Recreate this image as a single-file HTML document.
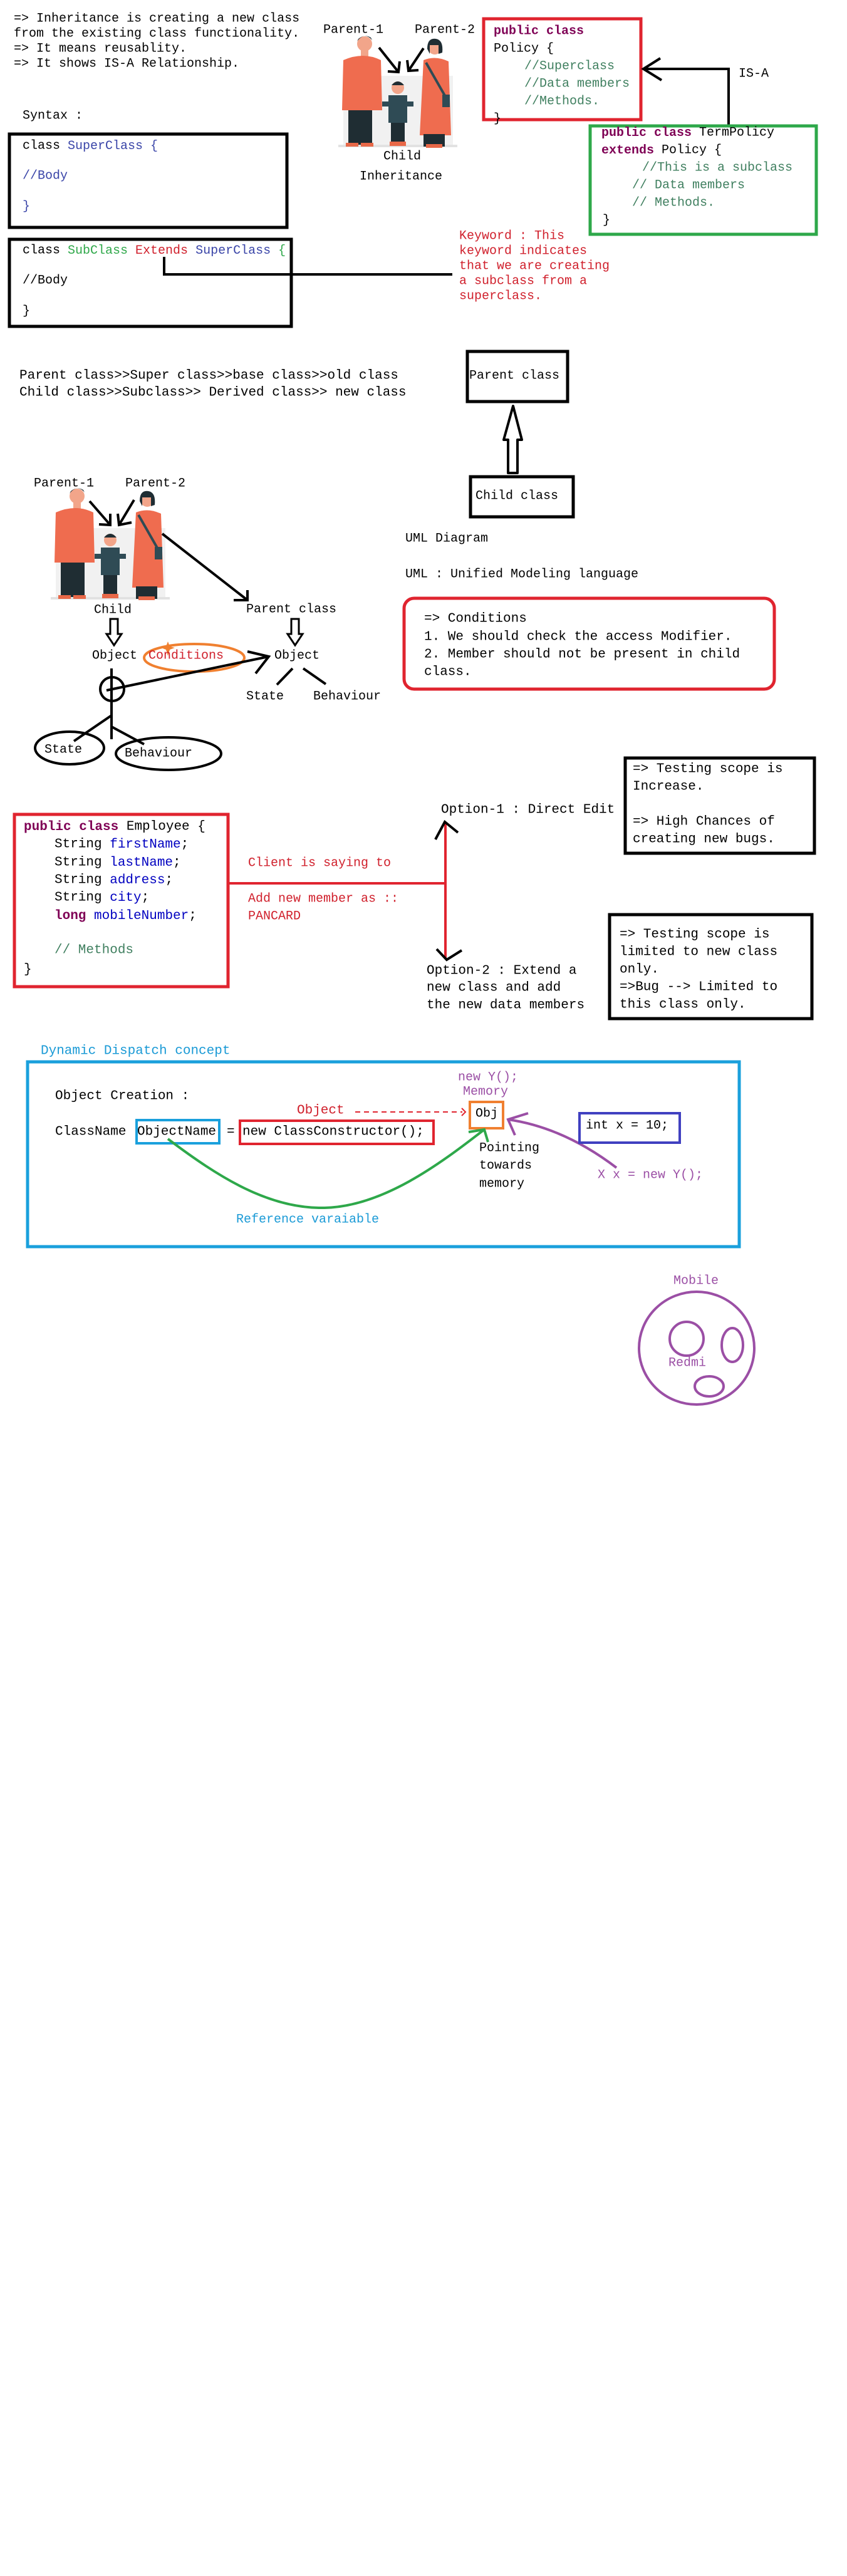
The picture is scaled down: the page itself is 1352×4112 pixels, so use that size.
<!DOCTYPE html>
<html><head><meta charset="utf-8"><style>
html,body{margin:0;padding:0;background:#fff;}
svg{display:block;}
text{font-family:"Liberation Mono",monospace;font-size:20px;dominant-baseline:central;fill:#000;}
.s21{font-size:21px;}
.kw{fill:#7f0055;font-weight:bold;}
.cm{fill:#3f7f5f;}
.bl{fill:#3a45a8;}
.fd{fill:#0000c0;}
.rd{fill:#d0202c;}
.pu{fill:#9b4fa5;}
.cy{fill:#1a9ad6;}
</style></head><body>
<svg width="1352" height="4112" viewBox="0 0 1352 4112" xmlns="http://www.w3.org/2000/svg">
<rect width="1352" height="4112" fill="#fff"/>
<defs>
<g id="fam">
  <rect x="18" y="85" width="175" height="112" fill="#f1f1f1"/>
  <rect x="10" y="195" width="190" height="4" fill="#e2e2e2"/>
  <!-- man -->
  <circle cx="52" cy="34" r="12" fill="#f2a58a"/>
  <path d="M40,30 Q52,14 64,28 L62,24 Q52,18 42,26Z" fill="#1f2d33"/>
  <rect x="46" y="44" width="12" height="10" fill="#f2a58a"/>
  <path d="M18,60 Q50,46 78,60 L80,140 L16,140Z" fill="#ef6c4f"/>
  <rect x="26" y="140" width="38" height="55" fill="#1f2d33"/>
  <rect x="22" y="192" width="20" height="6" fill="#e86848"/><rect x="46" y="192" width="20" height="6" fill="#e86848"/>
  <!-- child -->
  <circle cx="105" cy="104" r="10" fill="#f2a58a"/>
  <path d="M95,100 Q105,88 115,100Z" fill="#1f2d33"/>
  <rect x="80" y="126" width="50" height="8" fill="#2f4b55"/>
  <rect x="90" y="116" width="30" height="44" fill="#2f4b55"/>
  <rect x="94" y="160" width="22" height="34" fill="#1f2d33"/>
  <rect x="92" y="190" width="26" height="7" fill="#e86848"/>
  <!-- woman -->
  <circle cx="164" cy="40" r="11" fill="#f2a58a"/>
  <path d="M152,42 Q152,24 166,26 Q178,28 176,48 L170,50 L170,36 L156,36 L156,50Z" fill="#1f2d33"/>
  <path d="M146,60 Q165,52 186,62 L190,180 L140,180Z" fill="#ef6c4f"/>
  <line x1="150" y1="64" x2="182" y2="120" stroke="#2f4b55" stroke-width="4"/>
  <rect x="176" y="115" width="12" height="20" fill="#2f4b55"/>
  <rect x="146" y="178" width="34" height="20" fill="#1f2d33"/>
  <rect x="150" y="194" width="26" height="6" fill="#e86848"/>
</g>
</defs>

<!-- Top intro text -->
<text x="22" y="30">=&gt; Inheritance is creating a new class</text>
<text x="22" y="54">from the existing class functionality.</text>
<text x="22" y="78">=&gt; It means reusablity.</text>
<text x="22" y="102">=&gt; It shows IS-A Relationship.</text>

<text x="36" y="185">Syntax :</text>
<rect x="15" y="214" width="443" height="149" fill="none" stroke="#000" stroke-width="5"/>
<text x="36" y="233">class <tspan class="bl">SuperClass {</tspan></text>
<text x="36" y="281" class="bl">//Body</text>
<text x="36" y="330" class="bl">}</text>

<rect x="15" y="382" width="450" height="139" fill="none" stroke="#000" stroke-width="5"/>
<text x="36" y="400">class <tspan fill="#2fa84a">SubClass</tspan> <tspan class="rd">Extends</tspan> <tspan class="bl">SuperClass</tspan> <tspan fill="#2fa84a">{</tspan></text>
<text x="36" y="448" fill="#2fa84a">//Body</text>
<text x="36" y="497" fill="#2fa84a">}</text>
<polyline points="262,410 262,438 722,438" fill="none" stroke="#000" stroke-width="4"/>

<!-- illustration 1 -->
<use href="#fam" transform="translate(530,36)"/>
<text x="516" y="48">Parent-1</text>
<text x="662" y="48">Parent-2</text>
<g stroke="#000" stroke-width="4" fill="none">
<line x1="605" y1="76" x2="636" y2="115"/><polyline points="619,114 636,115 638,98"/>
<line x1="676" y1="77" x2="652" y2="113"/><polyline points="650,96 652,113 668,112"/>
</g>
<text x="612" y="250">Child</text>
<text x="574" y="282">Inheritance</text>

<!-- Policy box -->
<rect x="772" y="30" width="251" height="161" fill="none" stroke="#e0242f" stroke-width="5"/>
<text x="788" y="50" class="kw">public class</text>
<text x="788" y="78">Policy {</text>
<text x="837" y="106" class="cm">//Superclass</text>
<text x="837" y="134" class="cm">//Data members</text>
<text x="837" y="162" class="cm">//Methods.</text>
<text x="788" y="190">}</text>
<g stroke="#000" stroke-width="4" fill="none">
<polyline points="1163,199 1163,110 1027,110"/>
<polyline points="1054,93 1027,110 1056,128"/>
</g>
<text x="1179" y="118">IS-A</text>

<rect x="942" y="201" width="361" height="173" fill="none" stroke="#2ea84a" stroke-width="5"/>
<text x="960" y="212"><tspan class="kw">public class</tspan> TermPolicy</text>
<text x="960" y="240"><tspan class="kw">extends</tspan> Policy {</text>
<text x="1025" y="268" class="cm">//This is a subclass</text>
<text x="1009" y="296" class="cm">// Data members</text>
<text x="1009" y="324" class="cm">// Methods.</text>
<text x="962" y="352">}</text>

<text x="733" y="377" class="rd">Keyword : This</text>
<text x="733" y="401" class="rd">keyword indicates</text>
<text x="733" y="425" class="rd">that we are creating</text>
<text x="733" y="449" class="rd">a subclass from a</text>
<text x="733" y="473" class="rd">superclass.</text>

<!-- names -->
<text x="31" y="600" class="s21">Parent class&gt;&gt;Super class&gt;&gt;base class&gt;&gt;old class</text>
<text x="31" y="627" class="s21">Child class&gt;&gt;Subclass&gt;&gt; Derived class&gt;&gt; new class</text>

<!-- UML -->
<rect x="746" y="561" width="160" height="80" fill="none" stroke="#000" stroke-width="5"/>
<text x="749" y="600">Parent class</text>
<polygon points="819,648 833,702 826,702 826,755 811,755 811,702 804,702" fill="#fff" stroke="#000" stroke-width="4" stroke-linejoin="round"/>
<rect x="751" y="761" width="164" height="64" fill="none" stroke="#000" stroke-width="5"/>
<text x="759" y="792">Child class</text>
<text x="647" y="860">UML Diagram</text>
<text x="647" y="917">UML : Unified Modeling language</text>

<rect x="645" y="955" width="591" height="145" rx="16" fill="none" stroke="#e0242f" stroke-width="5"/>
<text x="677" y="988" class="s21">=&gt; Conditions</text>
<text x="677" y="1017" class="s21">1. We should check the access Modifier.</text>
<text x="677" y="1045" class="s21">2. Member should not be present in child</text>
<text x="677" y="1073" class="s21">class.</text>

<!-- illustration 2 -->
<use href="#fam" transform="translate(71,758)"/>
<text x="54" y="772">Parent-1</text>
<text x="200" y="772">Parent-2</text>
<g stroke="#000" stroke-width="4" fill="none">
<line x1="143" y1="800" x2="176" y2="838"/><polyline points="158,837 176,838 176,820"/>
<line x1="214" y1="798" x2="190" y2="838"/><polyline points="188,820 190,838 210,834"/>
<line x1="259" y1="852" x2="395" y2="958"/><polyline points="373,958 395,958 395,942"/>
</g>
<text x="150" y="974">Child</text>
<text x="393" y="973">Parent class</text>
<polygon points="176,988 188,988 188,1012 194,1012 182,1030 170,1012 176,1012" fill="#fff" stroke="#000" stroke-width="3"/>
<polygon points="465,988 477,988 477,1012 483,1012 471,1030 459,1012 465,1012" fill="#fff" stroke="#000" stroke-width="3"/>

<text x="147" y="1047">Object</text>
<ellipse cx="310" cy="1050" rx="80" ry="22" fill="none" stroke="#f08030" stroke-width="4"/>
<path d="M268,1024 l3,8 8,2 -8,3 -3,10 -3,-10 -8,-3 8,-2z" fill="#f08030"/>
<text x="237" y="1047" class="rd">Conditions</text>
<text x="438" y="1047">Object</text>
<g stroke="#000" stroke-width="4" fill="none">
<line x1="170" y1="1102" x2="429" y2="1048"/>
<polyline points="395,1040 429,1048 408,1075"/>
<line x1="467" y1="1067" x2="442" y2="1093"/>
<line x1="484" y1="1067" x2="520" y2="1092"/>
<line x1="178" y1="1067" x2="178" y2="1180"/>
<circle cx="179" cy="1100" r="19"/>
<line x1="178" y1="1142" x2="118" y2="1183"/>
<line x1="178" y1="1160" x2="230" y2="1188"/>
<ellipse cx="111" cy="1194" rx="55" ry="26"/>
<ellipse cx="269" cy="1203" rx="84" ry="26"/>
</g>
<text x="393" y="1112">State</text>
<text x="500" y="1112">Behaviour</text>
<text x="71" y="1197">State</text>
<text x="199" y="1203">Behaviour</text>

<!-- Employee -->
<rect x="23" y="1300" width="341" height="275" fill="none" stroke="#e0242f" stroke-width="5"/>
<text x="38" y="1320" class="s21"><tspan class="kw">public class</tspan> Employee {</text>
<text x="87" y="1348" class="s21">String <tspan class="fd">firstName</tspan>;</text>
<text x="87" y="1377" class="s21">String <tspan class="fd">lastName</tspan>;</text>
<text x="87" y="1405" class="s21">String <tspan class="fd">address</tspan>;</text>
<text x="87" y="1433" class="s21">String <tspan class="fd">city</tspan>;</text>
<text x="87" y="1462" class="s21"><tspan class="kw">long</tspan> <tspan class="fd">mobileNumber</tspan>;</text>
<text x="87" y="1517" class="s21 cm">//  Methods</text>
<text x="38" y="1548" class="s21">}</text>

<text x="396" y="1378" class="rd">Client is saying to</text>
<text x="396" y="1435" class="rd">Add new member as ::</text>
<text x="396" y="1463" class="rd">PANCARD</text>
<g stroke="#e0242f" stroke-width="4" fill="none">
<polyline points="366,1410 711,1410"/>
<line x1="711" y1="1314" x2="711" y2="1530"/>
</g>
<g stroke="#000" stroke-width="4" fill="none">
<polyline points="695,1340 710,1312 731,1329"/>
<polyline points="697,1515 713,1532 737,1517"/>
</g>
<text x="704" y="1293" class="s21">Option-1 : Direct Edit</text>
<text x="681" y="1550" class="s21">Option-2 : Extend a</text>
<text x="681" y="1577" class="s21">new class and add</text>
<text x="681" y="1605" class="s21">the new data members</text>

<rect x="998" y="1210" width="302" height="152" fill="none" stroke="#000" stroke-width="5"/>
<text x="1010" y="1228" class="s21">=&gt; Testing scope is</text>
<text x="1010" y="1256" class="s21">Increase.</text>
<text x="1010" y="1312" class="s21">=&gt; High Chances of</text>
<text x="1010" y="1340" class="s21">creating new bugs.</text>

<rect x="973" y="1460" width="323" height="166" fill="none" stroke="#000" stroke-width="5"/>
<text x="989" y="1492" class="s21">=&gt; Testing scope is</text>
<text x="989" y="1520" class="s21">limited to new class</text>
<text x="989" y="1548" class="s21">only.</text>
<text x="989" y="1576" class="s21">=&gt;Bug --&gt; Limited to</text>
<text x="989" y="1604" class="s21">this class only.</text>

<!-- Dynamic dispatch -->
<text x="65" y="1678" class="s21 cy">Dynamic Dispatch concept</text>
<rect x="44" y="1695" width="1136" height="295" fill="none" stroke="#1aa0dc" stroke-width="5"/>
<text x="88" y="1750" class="s21">Object Creation :</text>
<text x="88" y="1807" class="s21">ClassName</text>
<rect x="218" y="1788" width="132" height="37" fill="none" stroke="#1aa0dc" stroke-width="4"/>
<text x="219" y="1807" class="s21">ObjectName</text>
<text x="362" y="1807" class="s21">=</text>
<rect x="383" y="1789" width="309" height="37" fill="none" stroke="#e0242f" stroke-width="4"/>
<text x="387" y="1807" class="s21">new ClassConstructor();</text>
<text x="474" y="1773" class="s21 rd">Object</text>
<line x1="567" y1="1775" x2="738" y2="1775" stroke="#e0242f" stroke-width="2" stroke-dasharray="8,6"/>
<polyline points="737,1769 743,1775 737,1781" fill="none" stroke="#e0242f" stroke-width="2"/>

<text x="731" y="1720" class="pu">new Y();</text>
<text x="739" y="1743" class="pu">Memory</text>
<rect x="750" y="1759" width="53" height="42" fill="none" stroke="#f08030" stroke-width="4"/>
<text x="759" y="1778" fill="#f08030">Obj</text>

<path d="M268,1818 C350,1880 430,1930 518,1928 C610,1926 700,1860 773,1803" fill="none" stroke="#2ea84a" stroke-width="4"/>
<polyline points="748,1807 773,1803 779,1823" fill="none" stroke="#2ea84a" stroke-width="4"/>
<text x="377" y="1947" class="cy">Reference varaiable</text>

<text x="765" y="1833" fill="#8b0a1a">Pointing</text>
<text x="765" y="1861" fill="#8b0a1a">towards</text>
<text x="765" y="1890" fill="#8b0a1a">memory</text>

<path d="M984,1864 Q900,1800 811,1787" fill="none" stroke="#9b4fa5" stroke-width="4"/>
<polyline points="843,1777 811,1787 822,1812" fill="none" stroke="#9b4fa5" stroke-width="4"/>
<rect x="925" y="1777" width="160" height="47" fill="none" stroke="#4040c0" stroke-width="4"/>
<text x="935" y="1797" fill="#2ea84a">int x = 10;</text>
<text x="954" y="1876" class="pu">X x = new Y();</text>

<!-- Mobile -->
<text x="1075" y="2045" class="pu">Mobile</text>
<g stroke="#9b4fa5" stroke-width="4" fill="none">
<ellipse cx="1112" cy="2152" rx="92" ry="90"/>
<circle cx="1096" cy="2137" r="27"/>
<ellipse cx="1169" cy="2147" rx="17" ry="27"/>
<ellipse cx="1132" cy="2213" rx="23" ry="16"/>
</g>
<text x="1067" y="2176" class="pu">Redmi</text>
</svg>
</body></html>
